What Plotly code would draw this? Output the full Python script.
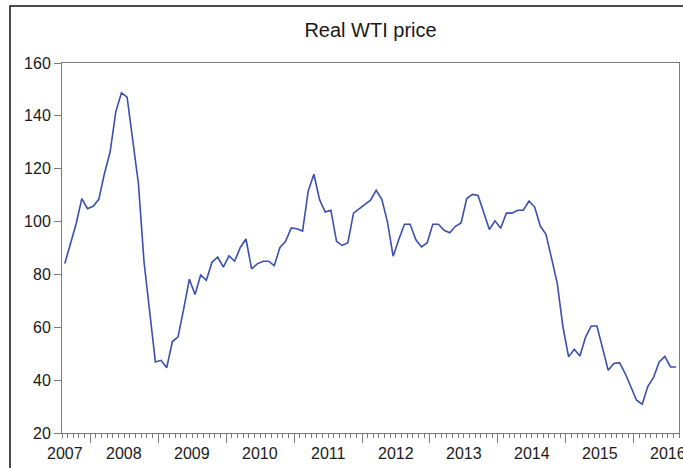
import numpy as np
import pandas as pd
import plotly.graph_objects as go

# ---- data (monthly, Aug 2007 - Aug 2016) ----
months = pd.period_range("2007-08", "2016-08", freq="M")
real_wti = [
    84.1, 91.7, 99.2, 108.7, 104.9, 105.8, 108.4, 118.2, 126.3, 141.5, 148.7, 147.1,
    130.8, 114.4, 84.5, 65.5, 46.9, 47.5, 44.7, 54.6, 56.4, 67.0, 78.2, 72.4,
    79.8, 77.8, 84.6, 86.6, 82.8, 87.0, 85.0, 90.2, 93.4, 82.1, 84.0, 85.0,
    85.0, 83.3, 90.2, 92.5, 97.6, 97.3, 96.4, 111.6, 117.9, 108.3, 103.6, 104.3,
    92.5, 91.0, 92.0, 103.2, 104.9, 106.4, 108.1, 111.8, 108.4, 99.8, 86.9, 93.2,
    99.0, 99.0, 93.2, 90.4, 91.9, 99.0, 99.0, 96.7, 95.8, 98.2, 99.5, 108.7,
    110.3, 109.9, 103.6, 97.0, 100.3, 97.5, 103.2, 103.2, 104.3, 104.3, 107.8, 105.5,
    98.3, 95.2, 86.0, 76.5, 60.1, 48.8, 51.7, 49.1, 56.3, 60.5, 60.5, 51.9,
    43.7, 46.3, 46.6, 42.5, 37.4, 32.4, 30.9, 37.7, 41.0, 46.9, 49.0, 45.0,
    45.0,
]
year_labels = [str(y) for y in range(2007, 2017)]
y_ticks = [20, 40, 60, 80, 100, 120, 140, 160]

# decimal-year positions (EViews style: uniform month spacing, points mid-month)
x = np.array([p.year + (p.month - 0.5) / 12 for p in months])
x_min = months[0].year + (months[0].month - 1) / 12
x_max = months[-1].year + months[-1].month / 12

year_starts = [y for y in range(2008, 2017)]
month_starts = [x_min + i / 12 for i in range(len(months) + 1)]
label_pos = [max(int(y) + 0.5, x_min + 0.045) for y in year_labels]

FONT = "Liberation Sans, Arial, sans-serif"
AX = "#7a7a7a"

fig = go.Figure()
fig.add_trace(go.Scatter(x=x, y=real_wti, mode="lines",
                         line=dict(color="#3a4fb0", width=1.6),
                         hoverinfo="skip", showlegend=False))

W, H = 683, 468
ml, mr, mt, mb = 62, 4, 63, 35
pw, ph = W - ml - mr, H - mt - mb

fig.update_layout(
    width=W, height=H,
    margin=dict(l=ml, r=mr, t=mt, b=mb, pad=0),
    paper_bgcolor="white", plot_bgcolor="white",
    font=dict(family=FONT, size=16, color="#1a1a1a"),
    title=dict(text="Real WTI price", x=0.5, xanchor="center",
               xref="paper", yref="container", y=1 - 30 / H, yanchor="middle",
               font=dict(size=20, color="#1a1a1a", family=FONT)),
    showlegend=False,
)
fig.update_xaxes(
    range=[x_min, x_max], showgrid=False, zeroline=False,
    showline=True, mirror=True, linecolor=AX, linewidth=1,
    tickmode="array", tickvals=year_starts, showticklabels=False,
    ticks="outside", ticklen=9, tickcolor=AX, tickwidth=1,
    minor=dict(tickmode="array", tickvals=month_starts, ticks="outside",
               ticklen=4, tickcolor=AX, tickwidth=1, showgrid=False),
)
fig.update_yaxes(
    range=[20, 160], showgrid=False, zeroline=False,
    showline=True, mirror=True, linecolor=AX, linewidth=1,
    tickmode="array", tickvals=y_ticks,
    ticks="outside", ticklen=7, tickcolor=AX, tickwidth=1,
    tickfont=dict(size=16, color="#1a1a1a", family=FONT),
)

for lab, pos in zip(year_labels, label_pos):
    fig.add_annotation(x=pos, y=0, xref="x", yref="paper", text=lab,
                       showarrow=False, xanchor="center", yanchor="top",
                       yshift=-10, font=dict(size=16, color="#1a1a1a", family=FONT))

# outer frame of the picture (left and top edges visible)
fig.add_shape(type="rect", xref="paper", yref="paper",
              x0=(10 - ml) / pw, x1=(W + 10 - ml) / pw,
              y0=-(H + 10 - mt - ph) / ph, y1=(H - mb - 6) / ph,
              line=dict(color="#111111", width=1.5), fillcolor="rgba(0,0,0,0)",
              layer="above")

fig.write_html("out.html",
               config={"displayModeBar": False},
               post_script="document.body.style.margin='0';document.body.style.overflow='hidden';")
